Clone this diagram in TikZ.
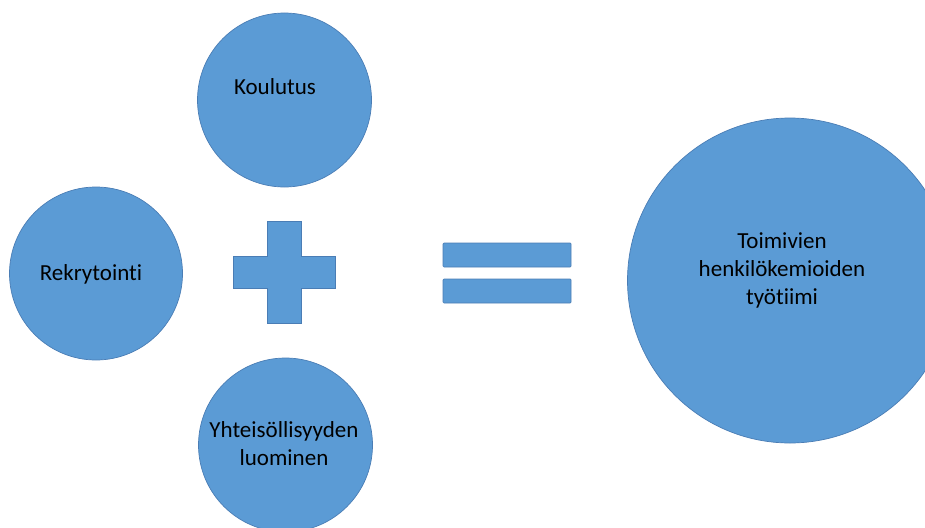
\documentclass[tikz,border=0pt]{standalone}
\usepackage{fontspec}
\setmainfont{Carlito}[Ligatures=NoCommon]
\definecolor{ballblue}{HTML}{5B9BD5}
\definecolor{ballline}{HTML}{4A7DB5}
\begin{document}
\begin{tikzpicture}[x=1pt,y=-1pt]
		\tikzset{ball/.style = {shape=circle,draw=ballline,fill=ballblue,line width=.7pt,inner sep=0pt}}
		\tikzset{label/.style = {align=center,font=\fontsize{23}{28}\selectfont,text=black}}
		\tikzset{bar/.style = {draw=ballline,fill=ballblue,line width=.7pt,rounded corners=1pt}}
		\useasboundingbox (0,0) rectangle (925,527);
		\clip (0,0) rectangle (925,527);
		\node[ball,minimum size=174pt] (koulutus) at (284.5,100) {};
		\node[ball,minimum size=173pt] (rekry) at (96,273.5) {};
		\node[ball,minimum size=174pt] (yhteis) at (285.5,445) {};
		\node[ball,minimum size=325pt] (tiimi) at (790,280.5) {};
		\node[label] (koulutusText) at (275,87) {Koulutus};
		\node[label] (rekryText) at (91,274) {Rekrytointi};
		\node[label] (yhteisText) at (284,444) {Yhteisöllisyyden\\luominen};
		\node[label] (tiimiText) at (782,270) {Toimivien\\henkilökemioiden\\työtiimi};
		% plus
		\draw[bar,rounded corners=0pt] (267,221) -- (301,221) -- (301,256) -- (335,256) -- (335,288)
			-- (301,288) -- (301,323) -- (267,323) -- (267,288) -- (233,288) -- (233,256) -- (267,256) -- cycle;
		% equals
		\draw[bar] (443,243) rectangle (571,267);
		\draw[bar] (443,279) rectangle (571,303);
	\end{tikzpicture}
\end{document}
